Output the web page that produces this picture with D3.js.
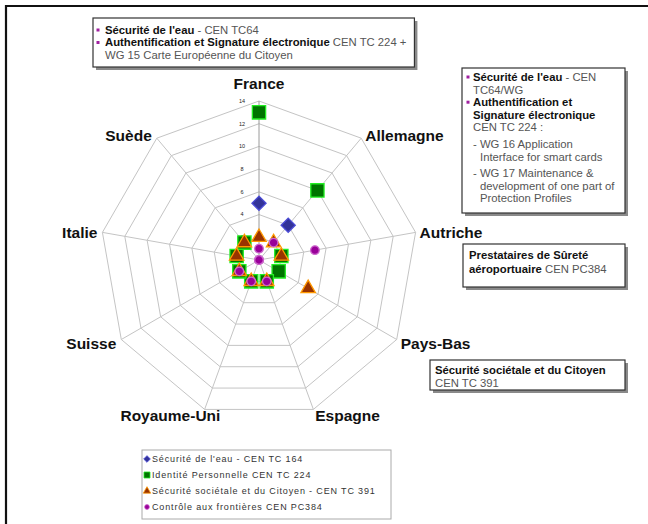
<!DOCTYPE html>
<html>
<head>
<meta charset="utf-8">
<script src="https://cdn.jsdelivr.net/npm/d3@7"></script>
<style>
  body { margin: 0; background: #fff; }
  svg { font-family: "Liberation Sans", Arial, sans-serif; }
</style>
</head>
<body>
<svg width="648" height="524"></svg>
<script>
// axes of the radar and the four series (null = not plotted)
const axes = ["France", "Allemagne", "Autriche", "Pays-Bas", "Espagne", "Royaume-Uni", "Suisse", "Italie", "Suède"];
const eau = [5, 4, null, null, null, null, null, null, null];
const identite = [13, 8, 2, 2, 2, 2, 2, 2, 2];
const societale = [2, 2, 2, 5, 2, 2, 2, 2, 2];
const frontieres = [1, 2, 5, 0, 2, 2, 2, 0, 0];
const seriesNames = [
  "Sécurité de l'eau - CEN TC 164",
  "Identité Personnelle CEN TC 224",
  "Sécurité sociétale et du Citoyen - CEN TC 391",
  "Contrôle aux frontières CEN PC384"
];
const ticks = [0, 2, 4, 6, 8, 10, 12, 14];

// callout texts: [text, style] with b = bold, g = grey
const note1 = [
  { bullet: true, parts: [["Sécurité de l'eau", "b"], [" - CEN TC64", "g"]] },
  { bullet: true, parts: [["Authentification et Signature électronique", "b"], [" CEN TC 224 +", "g"]] },
  { bullet: false, parts: [["WG 15 Carte Européenne du Citoyen", "g"]] }
];
const note2 = [
  { bullet: true, parts: [["Sécurité de l'eau", "b"], [" - CEN", "g"]] },
  { bullet: false, parts: [["TC64/WG", "g"]] },
  { bullet: true, parts: [["Authentification et", "b"]] },
  { bullet: false, parts: [["Signature électronique", "b"]] },
  { bullet: false, parts: [["CEN TC 224 :", "g"]] },
  { bullet: false, gap: true, parts: [["- WG 16 Application", "g"]] },
  { bullet: false, indent: true, parts: [["Interface for smart cards", "g"]] },
  { bullet: false, gap: true, parts: [["- WG 17 Maintenance &", "g"]] },
  { bullet: false, indent: true, parts: [["development of one part of", "g"]] },
  { bullet: false, indent: true, parts: [["Protection Profiles", "g"]] }
];
const note3 = [
  { parts: [["Prestataires de Sûreté", "b"]] },
  { parts: [["aéroportuaire", "b"], [" CEN PC384", "g"]] }
];
const note4 = [
  { parts: [["Sécurité sociétale et du Citoyen", "b"]] },
  { parts: [["CEN TC 391", "g"]] }
];

const svg = d3.select("svg");
const cx = 259, cy = 260, R = 159;

const r = d3.scaleLinear().domain([0, 14]).range([0, R]);
const angle = d3.scaleBand().domain(axes).range([0, 2 * Math.PI]);

function px(a, rad) { return cx + rad * Math.sin(angle(a)); }
function py(a, rad) { return cy - rad * Math.cos(angle(a)); }

// frame (top and left edges only)
svg.append("path")
  .attr("d", "M6,524 L6,6 L648,6")
  .attr("fill", "none")
  .attr("stroke", "#111")
  .attr("stroke-width", 2.2);

// grid rings
const grid = svg.append("g");
ticks.filter(t => t > 0).forEach(t => {
  grid.append("polygon")
    .attr("points", axes.map(a => px(a, r(t)) + "," + py(a, r(t))).join(" "))
    .attr("fill", "none")
    .attr("stroke", "#c4c4c4")
    .attr("stroke-width", 1);
});
// spokes
axes.forEach((a, i) => {
  grid.append("line")
    .attr("x1", cx).attr("y1", cy)
    .attr("x2", px(a, R)).attr("y2", py(a, R))
    .attr("stroke", i === 0 ? "#9a9a9a" : "#c4c4c4")
    .attr("stroke-width", 1);
});

// value tick labels along the France axis
svg.append("g").selectAll("text")
  .data(ticks.filter(t => t > 0))
  .join("text")
  .attr("x", cx - 17)
  .attr("y", d => cy - r(d))
  .attr("dy", "0.35em")
  .attr("text-anchor", "middle")
  .attr("font-size", 5.5)
  .attr("fill", "#222")
  .text(d => d);

// axis labels
svg.append("g").selectAll("text")
  .data(axes)
  .join("text")
  .attr("x", d => {
    const s = Math.sin(angle(d)), c = Math.cos(angle(d));
    if (Math.abs(s) < 0.1) return px(d, R);
    if (c < -0.9) return px(d, R) + s * 100; // bottom labels are centred
    return px(d, R) + (s > 0 ? 4 : -5);
  })
  .attr("y", d => {
    const c = Math.cos(angle(d));
    return py(d, R) + (c > 0.95 ? -18 : -c * 5 + 1);
  })
  .attr("dy", "0.36em")
  .attr("text-anchor", d => {
    const s = Math.sin(angle(d)), c = Math.cos(angle(d));
    if (Math.abs(s) < 0.1 || c < -0.9) return "middle";
    return s > 0 ? "start" : "end";
  })
  .attr("font-size", 15.5)
  .attr("font-weight", "bold")
  .attr("fill", "#111")
  .text(d => d);

// series styles
const styles = [
  { values: eau, type: d3.symbolSquare, size: 100, rot: 45, fill: "#333399", stroke: "#4b4bd6", lsize: 22 },
  { values: identite, type: d3.symbolSquare, size: 176, rot: 0, fill: "#007400", stroke: "#22ee22", lsize: 36 },
  { values: societale, type: d3.symbolTriangle, size: 90, rot: 0, fill: "#993300", stroke: "#ff9900", lsize: 24 },
  { values: frontieres, type: d3.symbolCircle, size: 58, rot: 0, fill: "#990099", stroke: "#cc66cc", lsize: 18 }
];

const marks = svg.append("g");
styles.forEach(st => {
  const pts = st.values.map((v, i) => ({ a: axes[i], v: v })).filter(d => d.v !== null);
  marks.append("g").selectAll("path")
    .data(pts)
    .join("path")
    .attr("d", d3.symbol().type(st.type).size(st.size))
    .attr("transform", d => "translate(" + px(d.a, r(d.v)) + "," + py(d.a, r(d.v)) + ") rotate(" + st.rot + ")")
    .attr("fill", st.fill)
    .attr("stroke", st.stroke)
    .attr("stroke-width", 1.3);
});

// callout boxes
function callout(lines, x, y, w, h, opts) {
  const g = svg.append("g");
  const shadow = g.append("rect");
  const box = g.append("rect");
  let ly = y + opts.first;
  let maxRight = 0;
  lines.forEach(l => {
    if (l.gap) ly += opts.gap;
    if (l.bullet) {
      g.append("rect").attr("x", x + opts.bx - 1.5).attr("y", ly - 1.5).attr("width", 3).attr("height", 3).attr("fill", "#a020a0");
    }
    const tx = x + opts.tx + (l.indent ? opts.ind : 0);
    const t = g.append("text")
      .attr("x", tx)
      .attr("y", ly)
      .attr("dy", "0.35em")
      .attr("font-size", opts.fs);
    l.parts.forEach(p => {
      t.append("tspan")
        .attr("font-weight", p[1] === "b" ? "bold" : "normal")
        .attr("fill", p[1] === "g" ? "#555" : "#111")
        .text(p[0]);
    });
    maxRight = Math.max(maxRight, tx + t.node().getComputedTextLength());
    ly += opts.step;
  });
  if (w === null) w = maxRight - x + 8;
  shadow.attr("x", x + 3).attr("y", y + 3).attr("width", w).attr("height", h).attr("fill", "#8a8a8a");
  box.attr("x", x).attr("y", y).attr("width", w).attr("height", h)
    .attr("fill", "#fff").attr("stroke", "#333").attr("stroke-width", 1.2);
}

const fs = 11.3;
callout(note1, 93, 18, null, 49, { first: 12, step: 12.5, fs: fs, tx: 12, bx: 5, ind: 0, gap: 0 });
callout(note2, 462, 68, 163, 145, { first: 9, step: 12.6, fs: fs, tx: 11, bx: 6, ind: 7, gap: 4 });
callout(note3, 463, 244, 162, 43, { first: 11, step: 14, fs: fs, tx: 6, bx: 0, ind: 0, gap: 0 });
callout(note4, 430, 360, 195, 30, { first: 10, step: 13, fs: fs, tx: 5, bx: 0, ind: 0, gap: 0 });

// legend
const lg = svg.append("g");
lg.append("rect").attr("x", 142).attr("y", 450).attr("width", 249).attr("height", 69)
  .attr("fill", "#fff").attr("stroke", "#aaa").attr("stroke-width", 1);
styles.forEach((st, i) => {
  const yy = 459 + i * 16;
  lg.append("path")
    .attr("d", d3.symbol().type(st.type).size(st.lsize))
    .attr("transform", "translate(147," + yy + ") rotate(" + st.rot + ")")
    .attr("fill", st.fill)
    .attr("stroke", st.stroke)
    .attr("stroke-width", 0.8);
  lg.append("text")
    .attr("x", 152)
    .attr("y", yy)
    .attr("dy", "0.35em")
    .attr("font-size", 9)
    .attr("letter-spacing", 0.85)
    .attr("fill", "#333")
    .text(seriesNames[i]);
});
</script>
</body>
</html>
